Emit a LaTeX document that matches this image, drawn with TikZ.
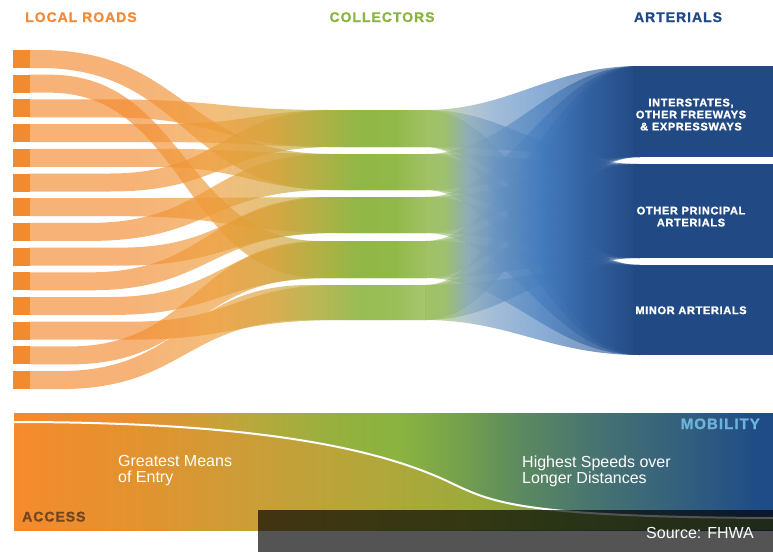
\documentclass[tikz,border=0pt]{standalone}
\usepackage{fontspec}
\setmainfont{Liberation Sans}
\newfontfamily\headfont{Liberation Sans Bold}[LetterSpace=7,FakeBold=1.2]
\newfontfamily\boxfont{Liberation Sans Bold}[LetterSpace=6,FakeBold=1.5]

% palette
\definecolor{roadorange}{HTML}{F28A30}
\definecolor{labelorange}{HTML}{F08B3A}
\definecolor{labelgreen}{HTML}{8CB443}
\definecolor{navy}{HTML}{214A84}
\definecolor{mobblue}{HTML}{6DB3DC}
\definecolor{accbrown}{HTML}{744620}

% local-road ribbons: orange to green
\definecolor{lfA}{HTML}{F28A30}
\definecolor{lfB}{HTML}{EE9B38}
\definecolor{lfC}{HTML}{D7A23B}
\definecolor{lfD}{HTML}{ADAE3E}
\definecolor{lfE}{HTML}{8BB43F}
\definecolor{lfF}{HTML}{8DB642}
\definecolor{lfG}{HTML}{9CBE5C}
% arterial ribbons: green to navy
\definecolor{rfA}{HTML}{9CBE5C}
\definecolor{rfB}{HTML}{98BC66}
\definecolor{rfC}{HTML}{88A7B4}
\definecolor{rfD}{HTML}{6893C0}
\definecolor{rfE}{HTML}{437BBD}
\definecolor{rfF}{HTML}{2F5E9E}
\definecolor{rfG}{HTML}{214A84}
% access/mobility band
\definecolor{btA}{HTML}{F58A2D}
\definecolor{btB}{HTML}{EC8F30}
\definecolor{btC}{HTML}{B9A83B}
\definecolor{btD}{HTML}{98B03E}
\definecolor{btE}{HTML}{8AB33F}
\definecolor{btF}{HTML}{79A44A}
\definecolor{btG}{HTML}{5C8A60}
\definecolor{btH}{HTML}{467272}
\definecolor{btI}{HTML}{34607E}
\definecolor{btJ}{HTML}{1F4B87}
\definecolor{blB}{HTML}{E4922F}
\definecolor{blC}{HTML}{C99E38}
\definecolor{blD}{HTML}{B0A83A}
\definecolor{blE}{HTML}{9BAA3C}
\definecolor{blF}{HTML}{80A045}
\definecolor{blG}{HTML}{607F50}

% horizontal shadings; 25bp..75bp spans x = 0..773
\pgfdeclarehorizontalshading{lflow}{100bp}{color(0bp)=(lfA); color(33.41bp)=(lfA);
  color(38.58bp)=(lfB); color(42.46bp)=(lfC); color(45.70bp)=(lfD);
  color(48.29bp)=(lfE); color(50.55bp)=(lfF); color(52.49bp)=(lfG); color(100bp)=(lfG)}
\pgfdeclarehorizontalshading{rflow}{100bp}{color(0bp)=(rfA); color(52.49bp)=(rfA);
  color(53.78bp)=(rfB); color(55.27bp)=(rfC); color(57.02bp)=(rfD);
  color(59.93bp)=(rfE); color(63.16bp)=(rfF); color(66.07bp)=(rfG); color(100bp)=(rfG)}
\pgfdeclarehorizontalshading{bandtop}{100bp}{color(0bp)=(btA); color(25.91bp)=(btA);
  color(33.41bp)=(btB); color(41.17bp)=(btC); color(46.35bp)=(btD); color(50.87bp)=(btE);
  color(54.11bp)=(btF); color(58.64bp)=(btG); color(63.81bp)=(btH); color(68.99bp)=(btI);
  color(74.16bp)=(btJ); color(100bp)=(btJ)}
\pgfdeclarehorizontalshading{bandlow}{100bp}{color(0bp)=(btA); color(25.91bp)=(btA);
  color(33.41bp)=(blB); color(41.82bp)=(blC); color(49.58bp)=(blD); color(56.05bp)=(blE);
  color(61.22bp)=(blF); color(75bp)=(blG); color(100bp)=(blG)}

% ribbon from a local road (top y #1) to a collector band (#4..#5), bending between x=#2 and x=#3
\newcommand\localflow[5]{%
  \begin{scope}
    \clip (29,#1) -- (#2,#1)
      .. controls ({(#2+#3)/2},#1) and ({(#2+#3)/2},#4) .. (#3,#4)
      -- (426,#4) -- (426,#5) -- (#3,#5)
      .. controls ({(#2+#3)/2},#5) and ({(#2+#3)/2},{#1+18}) .. (#2,{#1+18})
      -- (29,{#1+18}) -- cycle;
    \shade[leftflow] (0,0) rectangle (773,552);
  \end{scope}}

% ribbon from a collector band (#1..#2) to an arterial box (#3..#4)
\newcommand\arterialflow[4]{%
  \begin{scope}
    \clip (425,#1) .. controls (510,#1) and (550,#3) .. (640,#3)
      -- (640,#4) .. controls (550,#4) and (510,#2) .. (425,#2) -- cycle;
    \shade[rightflow] (0,0) rectangle (773,552);
  \end{scope}}

\begin{document}
\begin{tikzpicture}[x=1pt,y=-1pt,
  srcsq/.style={fill=roadorange, minimum width=17.5pt, minimum height=18pt, inner sep=0pt},
  artbox/.style={fill=navy, minimum width=140pt, inner sep=0pt},
  leftflow/.style={shading=lflow, fill opacity=0.66},
  rightflow/.style={shading=rflow, fill opacity=0.62},
  headlabel/.style={font={\headfont\fontsize{14}{16}\selectfont}, inner sep=0pt},
  boxlabel/.style={text=white, font={\boxfont\fontsize{11}{12}\selectfont}, align=center, inner sep=0pt},
  bandtext/.style={text=white, font={\fontsize{16}{16}\selectfont}, align=left, inner sep=0pt, anchor=north west}]

\useasboundingbox (0,0) rectangle (773,552);

% ---- local roads -> collectors
\localflow{50}{40}{330}{154}{190}
\localflow{74.7}{50}{320}{241}{278}
\localflow{99.4}{110}{330}{110}{147}
\localflow{124.1}{160}{345}{110}{147}
\localflow{148.8}{150}{345}{154}{190}
\localflow{173.5}{110}{335}{110}{147}
\localflow{198.2}{120}{345}{197}{233}
\localflow{222.9}{90}{330}{154}{190}
\localflow{247.6}{120}{340}{197}{233}
\localflow{272.3}{90}{330}{197}{233}
\localflow{297}{110}{335}{241}{278}
\localflow{321.7}{130}{340}{285}{320}
\localflow{346.4}{70}{320}{241}{278}
\localflow{371.1}{60}{310}{285}{320}

% ---- collectors -> arterials
\foreach \ct/\cb in {110/147,154/190,197/233,241/278,285/320}{
  \arterialflow{\ct}{\cb}{66}{157}
  \arterialflow{\ct}{\cb}{164}{258}
  \arterialflow{\ct}{\cb}{265}{355}
}

% ---- local road squares
\foreach \i in {0,...,13}{
  \node[srcsq] (s\i) at (21.25,{59+24.7*\i}) {};
}

% ---- arterial boxes
\node[artbox, minimum height=91pt] (a1) at (703,111.5) {};
\node[artbox, minimum height=94pt] (a2) at (703,211) {};
\node[artbox, minimum height=90pt] (a3) at (703,310) {};
\node[boxlabel] (a1t) at (691,114.6) {INTERSTATES,\\OTHER FREEWAYS\\\& EXPRESSWAYS};
\node[boxlabel] (a2t) at (691,216.6) {OTHER PRINCIPAL\\ARTERIALS};
\node[boxlabel] (a3t) at (691,310.3) {MINOR ARTERIALS};

% ---- column headings
\node[headlabel, text=labelorange, anchor=base west] (hl) at (25,22) {LOCAL ROADS};
\node[headlabel, text=labelgreen, anchor=base] (hc) at (382,22) {COLLECTORS};
\node[headlabel, text=navy, anchor=base] (ha) at (678,22) {ARTERIALS};

% ---- access / mobility band
\begin{scope}
  \clip (14,413) rectangle (773,530);
  \shade[shading=bandtop] (0,0) rectangle (773,552);
  \begin{scope}
    \clip (14,422) .. controls (240,422) and (370,445) .. (447,481)
      .. controls (490,501) and (510,517) .. (773,518) -- (773,530) -- (14,530) -- cycle;
    \shade[shading=bandlow] (0,0) rectangle (773,552);
  \end{scope}
  \draw[white, line width=2pt] (14,422) .. controls (240,422) and (370,445) .. (447,481)
      .. controls (490,501) and (510,517) .. (773,518);
\end{scope}
\node[bandtext] (gm) at (118,455.5) {Greatest Means\\of Entry};
\node[bandtext] (hs) at (522,455.5) {Highest Speeds over\\Longer Distances};
\node[headlabel, text=mobblue, font={\headfont\fontsize{15}{16}\selectfont}, anchor=base east] (mob) at (760,429) {MOBILITY};
\node[headlabel, text=accbrown, anchor=base west] (acc) at (22,521.5) {ACCESS};

% ---- source note
\node[fill=black, fill opacity=0.67, minimum width=515pt, minimum height=42pt, inner sep=0pt, anchor=north west] (src) at (258,510) {};
\node[text=white, font={\fontsize{16}{19}\selectfont}, anchor=base east, inner sep=0pt] (srct) at (754,538.5) {Source: FHWA};
\end{tikzpicture}
\end{document}
